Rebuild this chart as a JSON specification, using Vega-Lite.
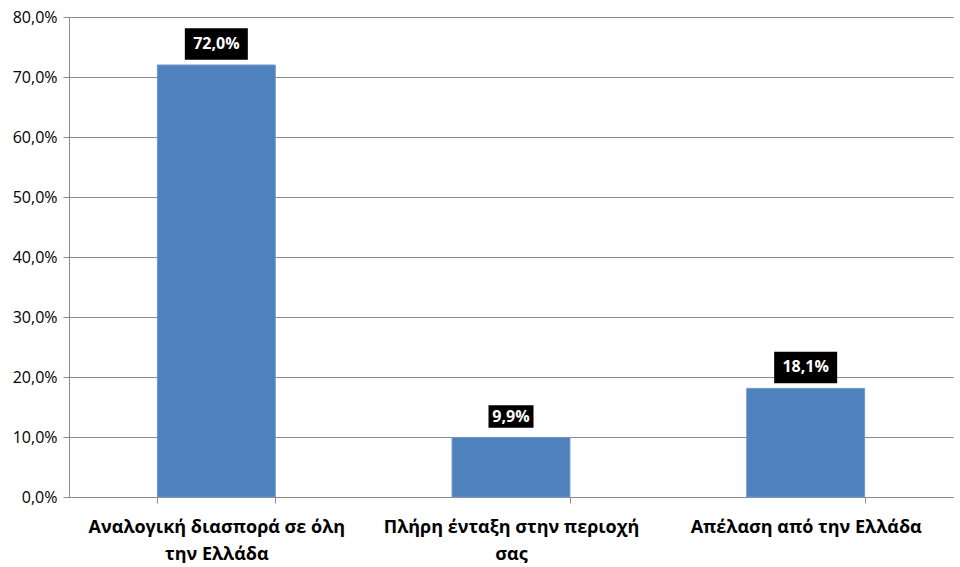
{
  "$schema": "https://vega.github.io/schema/vega-lite/v6.json",
  "width": 884,
  "height": 480,
  "padding": {"left": 0, "top": 9, "right": 7, "bottom": 0},
  "background": "white",
  "config": {
    "locale": {"number": {"decimal": ",", "thousands": ".", "grouping": [3], "currency": ["", " €"]}},
    "view": {"stroke": null},
    "font": "Open Sans"
  },
  "data": {
    "values": [
      {"answer": "Αναλογική διασπορά σε όλη την Ελλάδα", "share": 0.72},
      {"answer": "Πλήρη ένταξη στην περιοχή σας", "share": 0.099},
      {"answer": "Απέλαση από την Ελλάδα", "share": 0.181}
    ]
  },
  "encoding": {
    "x": {
      "field": "answer",
      "type": "nominal",
      "sort": null,
      "title": null,
      "scale": {"paddingInner": 0.6, "paddingOuter": 0.3},
      "axis": {
        "labelAngle": 0,
        "tickBand": "extent",
        "labelFont": "Open Sans",
        "labelFontWeight": "bold",
        "labelFontSize": 18,
        "labelColor": "#000000",
        "labelPadding": 15,
        "labelLineHeight": 27,
        "labelLimit": 0,
        "domainColor": "#8c8c8c",
        "tickColor": "#8c8c8c",
        "tickSize": 6,
        "labelExpr": "datum.label == 'Αναλογική διασπορά σε όλη την Ελλάδα' ? ['Αναλογική διασπορά σε όλη', 'την Ελλάδα'] : datum.label == 'Πλήρη ένταξη στην περιοχή σας' ? ['Πλήρη ένταξη  στην περιοχή', 'σας'] : datum.label"
      }
    },
    "y": {
      "field": "share",
      "type": "quantitative",
      "title": null,
      "scale": {"domain": [0, 0.8], "nice": false},
      "axis": {
        "format": ".1%",
        "values": [0, 0.1, 0.2, 0.3, 0.4, 0.5, 0.6, 0.7, 0.8],
        "labelOverlap": false,
        "labelFont": "Open Sans",
        "labelFontSize": 16,
        "labelColor": "#000000",
        "labelPadding": 6,
        "tickSize": 6,
        "tickColor": "#8c8c8c",
        "domainColor": "#8c8c8c",
        "gridColor": "#8c8c8c",
        "minExtent": 69,
        "maxExtent": 69
      }
    }
  },
  "layer": [
    {
      "mark": {"type": "bar", "color": "#4f81bd", "stroke": "#6e97cb", "strokeWidth": 1}
    },
    {
      "mark": {
        "type": "point",
        "shape": "M-1,-0.5L1,-0.5L1,0.5L-1,0.5Z",
        "filled": true,
        "color": "#000000",
        "opacity": 1,
        "yOffset": -21
      },
      "encoding": {
        "size": {
          "condition": {"test": "datum.share < 0.1", "value": 2025},
          "value": 3969
        }
      }
    },
    {
      "mark": {
        "type": "text",
        "color": "#ffffff",
        "font": "Open Sans",
        "fontWeight": "bold",
        "fontSize": 16,
        "baseline": "middle",
        "yOffset": -21
      },
      "encoding": {
        "text": {"field": "share", "type": "quantitative", "format": ".1%"}
      }
    }
  ]
}
